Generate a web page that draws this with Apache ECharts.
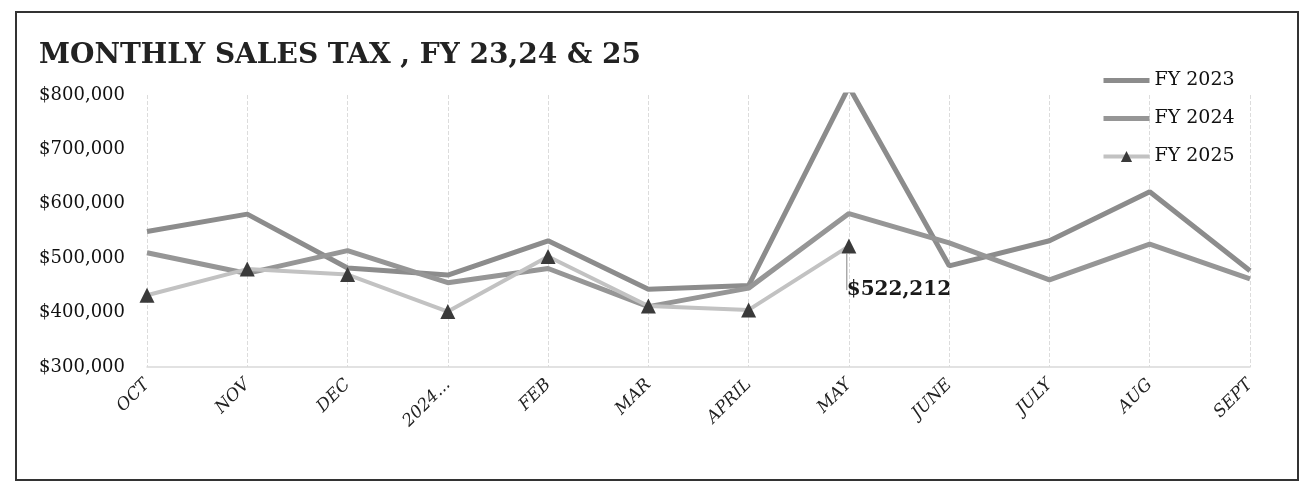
<!DOCTYPE html>
<html>
<head>
<meta charset="utf-8">
<title>Monthly Sales Tax</title>
<script src="https://cdn.jsdelivr.net/npm/echarts@6/dist/echarts.min.js"></script>
<style>
  html, body { margin: 0; padding: 0; background: #fff; }
  #chart { width: 1305px; height: 502px; }
</style>
</head>
<body>
<div id="chart"></div>
<script>
// months of the fiscal year (Excel cut the January label off as "2024...")
var months = ['OCT', 'NOV', 'DEC', '2024...', 'FEB', 'MAR', 'APRIL', 'MAY', 'JUNE', 'JULY', 'AUG', 'SEPT'];
var fy2023 = [549000, 581000, 482000, 469000, 532000, 443000, 450000, 815000, 486000, 532000, 622000, 477000];
var fy2024 = [510000, 472000, 514000, 455000, 481000, 411000, 445000, 582000, 528000, 460000, 526000, 462000];
var fy2025 = [432000, 480000, 470000, 402000, 503000, 412000, 405000, 522212, null, null, null, null];
var yTicks = [300000, 400000, 500000, 600000, 700000, 800000];

var labelIndex = 7; // only the last FY 2025 value is labelled

function money(v) {
    return '$' + Math.round(v).toLocaleString('en-US');
}

var serif = 'DejaVu Serif';

var fy2025Data = fy2025.map(function (v, i) {
    if (i === labelIndex) {
        return { value: v, label: { show: true } };
    }
    return v;
});

var chart = echarts.init(document.getElementById('chart'));

chart.setOption({
    backgroundColor: '#fff',
    animation: false,
    title: {
        text: 'MONTHLY SALES TAX , FY 23,24 & 25',
        left: 34,
        top: 37,
        textStyle: {
            fontFamily: serif,
            fontWeight: 'bold',
            fontSize: 28,
            color: '#222'
        }
    },
    legend: {
        orient: 'vertical',
        left: 1096,
        top: 66,
        itemWidth: 46,
        itemHeight: 14,
        itemGap: 19,
        textStyle: { fontFamily: serif, fontSize: 19, color: '#111' },
        data: [
            { name: 'FY 2023', itemStyle: { opacity: 0 }, lineStyle: { width: 5 } },
            { name: 'FY 2024', itemStyle: { opacity: 0 }, lineStyle: { width: 5 } },
            { name: 'FY 2025', lineStyle: { width: 4 } }
        ]
    },
    graphic: [{
        type: 'rect',
        shape: { x: 16, y: 12, width: 1282, height: 468 },
        style: { fill: 'none', stroke: '#333', lineWidth: 2 },
        silent: true
    }],
    grid: {
        left: 147,
        right: 55,
        top: 95,
        bottom: 135
    },
    xAxis: {
        type: 'category',
        data: months,
        boundaryGap: false,
        axisLine: { lineStyle: { color: '#d9d9d9', width: 1.5 } },
        axisTick: { show: false },
        axisLabel: {
            rotate: 45,
            margin: 15,
            fontFamily: serif,
            fontStyle: 'italic',
            fontSize: 17,
            color: '#222'
        },
        splitLine: {
            show: true,
            lineStyle: { color: '#dcdcdc', type: 'dashed', width: 1 }
        }
    },
    yAxis: {
        type: 'value',
        min: yTicks[0],
        max: yTicks[yTicks.length - 1],
        interval: 100000,
        axisLine: { show: false },
        axisTick: { show: false },
        splitLine: { show: false },
        axisLabel: {
            margin: 22,
            fontFamily: serif,
            fontSize: 18,
            color: '#111',
            formatter: money
        }
    },
    series: [
        {
            name: 'FY 2023',
            type: 'line',
            data: fy2023,
            symbol: 'none',
            lineStyle: { color: '#8c8c8c', width: 5 },
            itemStyle: { color: '#8c8c8c' }
        },
        {
            name: 'FY 2024',
            type: 'line',
            data: fy2024,
            symbol: 'none',
            lineStyle: { color: '#969696', width: 5 },
            itemStyle: { color: '#969696' }
        },
        {
            name: 'FY 2025',
            type: 'line',
            data: fy2025Data,
            symbol: 'triangle',
            symbolSize: 15,
            lineStyle: { color: '#c2c2c2', width: 4 },
            itemStyle: { color: '#3a3a3a' },
            label: {
                show: false,
                position: 'inside',
                formatter: function (p) { return money(p.value); },
                fontFamily: serif,
                fontWeight: 'bold',
                fontSize: 20,
                color: '#1a1a1a'
            },
            labelLine: { show: true, lineStyle: { color: '#aaa', width: 1.5 } },
            labelLayout: function (params) {
                if (params.dataIndex === labelIndex) {
                    return { dx: 50, dy: 44 };
                }
            }
        }
    ]
});
</script>
</body>
</html>
